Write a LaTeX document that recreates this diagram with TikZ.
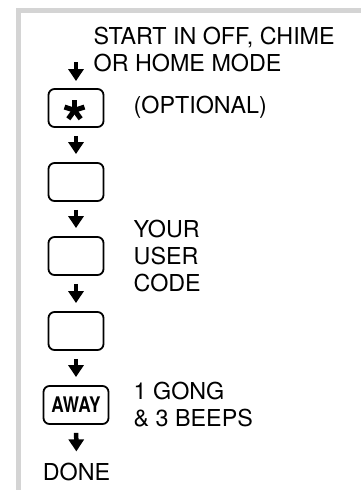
\documentclass[tikz,border=0pt]{standalone}
\usepackage{graphicx}
\usepackage{fontspec}
\setmainfont{TeX Gyre Heros}
\usepackage{tikz}
\usetikzlibrary{arrows.meta}
\definecolor{framegrey}{HTML}{D4D4D4}

\begin{document}
\begin{tikzpicture}[
    x=1pt, y=-1pt,
    key/.style={rectangle, draw, line width=1.8pt, rounded corners=6pt,
                minimum width=55pt, minimum height=38pt, inner sep=0pt},
    bigkey/.style={key, minimum width=65pt},
    arrow/.style={-{Triangle[length=12pt, width=15pt]}, line width=4.5pt,
                  shorten <=8pt, shorten >=8pt},
    note/.style={font=\fontsize{23.3}{27}\selectfont, align=left,
                 anchor=base west, inner sep=0pt},
]
\useasboundingbox (0,0) rectangle (361,490);

% ============== frame ==============
\draw[line width=5pt, framegrey] (18.5,490) |- (361,10.5);

% ============== keys ==============
\node[key] (k1) at (76,108) {};
\node[key] (k2) at (76,182) {};
\node[key] (k3) at (76,256) {};
\node[key] (k4) at (76,331) {};
\node[bigkey] (kaway) at (76,405)
    {\scalebox{0.8}[1]{\fontsize{21.5}{21.5}\selectfont\bfseries AWAY}};
\node[note, anchor=base] (done) at (76.5,480) {DONE};

% star on the first key
\foreach \a in {18,90,162,234,306}
    \draw[line width=5pt, shift={(k1.center)}] (-1.5,2.3) -- ++(\a:10.5pt);

% ============== arrows ==============
\coordinate (start) at (76,62);
\draw[arrow, shorten <=0pt, shorten >=7pt] (start) -- (k1);
\draw[arrow] (k1) -- (k2);
\draw[arrow] (k2) -- (k3);
\draw[arrow] (k3) -- (k4);
\draw[arrow] (k4) -- (kaway);
\draw[arrow, shorten >=11pt] (kaway) -- (done);

% ============== texts ==============
\node[note] (starttext) at (93.5,71.7) {START IN OFF, CHIME\\OR HOME MODE};
\node[note] (optional) at (133.5,113) {(OPTIONAL)};
\node[note] (usercode) at (133.5,291.7) {YOUR\\USER\\CODE};
\node[note] (gong) at (133.5,426.7) {1 GONG\\\& 3 BEEPS};

\end{tikzpicture}
\end{document}
